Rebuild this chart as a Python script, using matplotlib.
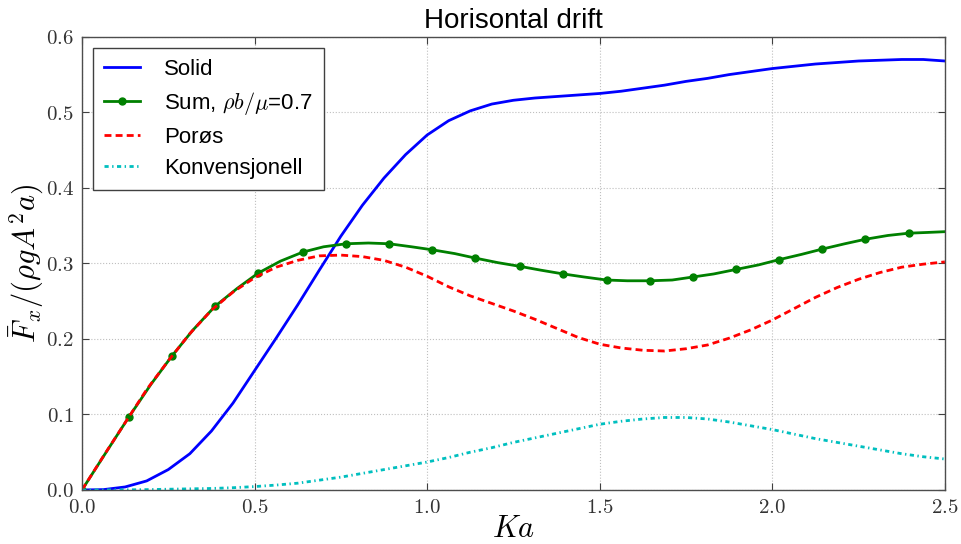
import matplotlib
matplotlib.use("Agg")
import matplotlib.pyplot as plt
from matplotlib.ticker import FuncFormatter, MultipleLocator

plt.rcParams["font.family"] = ["Liberation Sans", "DejaVu Sans"]
plt.rcParams["mathtext.fontset"] = "cm"

# Ka-verdier (felles rutenett for Solid, Porøs og Konvensjonell)
ka = [0.0, 0.0625, 0.125, 0.1875, 0.25, 0.3125, 0.375, 0.4375, 0.5, 0.5625,
      0.625, 0.6875, 0.75, 0.8125, 0.875, 0.9375, 1.0, 1.0625, 1.125, 1.1875,
      1.25, 1.3125, 1.375, 1.4375, 1.5, 1.5625, 1.625, 1.6875, 1.75, 1.8125,
      1.875, 1.9375, 2.0, 2.0625, 2.125, 2.1875, 2.25, 2.3125, 2.375, 2.4375, 2.5]

solid = [0.000, 0.0005, 0.004, 0.012, 0.027, 0.048, 0.078, 0.115, 0.158, 0.201,
         0.245, 0.291, 0.336, 0.377, 0.413, 0.444, 0.470, 0.489, 0.502, 0.511,
         0.516, 0.519, 0.521, 0.523, 0.525, 0.528, 0.532, 0.536, 0.541, 0.545,
         0.550, 0.554, 0.558, 0.561, 0.564, 0.566, 0.568, 0.569, 0.570, 0.570, 0.568]

porous = [0.000, 0.045, 0.089, 0.133, 0.171, 0.207, 0.238, 0.262, 0.281, 0.295,
          0.304, 0.310, 0.311, 0.309, 0.304, 0.295, 0.283, 0.269, 0.257, 0.247,
          0.237, 0.226, 0.214, 0.202, 0.193, 0.188, 0.185, 0.184, 0.187, 0.192,
          0.201, 0.212, 0.225, 0.240, 0.255, 0.268, 0.279, 0.288, 0.295, 0.299, 0.302]

konv = [0.000, 0.000, 0.0002, 0.0005, 0.001, 0.0015, 0.002, 0.003, 0.0045, 0.0065,
        0.009, 0.013, 0.017, 0.022, 0.027, 0.032, 0.037, 0.043, 0.050, 0.056,
        0.063, 0.069, 0.075, 0.081, 0.087, 0.091, 0.094, 0.096, 0.096, 0.094,
        0.090, 0.085, 0.080, 0.074, 0.068, 0.063, 0.058, 0.053, 0.048, 0.044, 0.041]

# Sum-kurven har egne Ka-verdier (markører på hvert andre punkt)
ka_sum = [0.00, 0.07, 0.135, 0.20, 0.26, 0.32, 0.385, 0.45, 0.51, 0.575,
          0.64, 0.70, 0.765, 0.83, 0.89, 0.955, 1.015, 1.08, 1.14, 1.205,
          1.27, 1.33, 1.395, 1.455, 1.52, 1.58, 1.645, 1.71, 1.77, 1.83,
          1.895, 1.96, 2.02, 2.085, 2.145, 2.21, 2.27, 2.335, 2.395, 2.45, 2.50]

total = [0.000, 0.050, 0.096, 0.140, 0.177, 0.211, 0.243, 0.267, 0.287, 0.303,
         0.315, 0.322, 0.326, 0.327, 0.326, 0.322, 0.318, 0.313, 0.307, 0.301,
         0.296, 0.291, 0.286, 0.282, 0.278, 0.277, 0.277, 0.278, 0.282, 0.286,
         0.292, 0.298, 0.305, 0.312, 0.319, 0.326, 0.332, 0.337, 0.340, 0.341, 0.342]

fig = plt.figure(figsize=(9.62, 5.44), dpi=100)
ax = fig.add_axes([0.0852, 0.0993, 0.897, 0.833])

ax.plot(ka, solid, color="b", lw=2, label="Solid")
ax.plot(ka_sum, total, color="g", lw=2, marker="o", ms=5, mec="g",
        markevery=slice(0, 39, 2), label=r"Sum, $\rho b/\mu$=0.7")
ax.plot(ka, porous, color="r", lw=2, dashes=(2.5, 1.5), label="Porøs")
ax.plot(ka, konv, color="c", lw=2, dashes=(1.5, 1.25, 0.5, 1.25), label="Konvensjonell")

ax.set_xlim(0, 2.5)
ax.set_ylim(0, 0.6)
ax.xaxis.set_major_locator(MultipleLocator(0.5))
ax.yaxis.set_major_locator(MultipleLocator(0.1))
fmt = FuncFormatter(lambda v, p: f"${v:.1f}$")
ax.xaxis.set_major_formatter(fmt)
ax.yaxis.set_major_formatter(fmt)
ax.tick_params(direction="in", length=5, width=0.8, colors="0.25",
               labelsize=15, top=True, right=True, pad=6)
ax.tick_params(labelcolor="0.2")
for s in ax.spines.values():
    s.set_color("0.3")
    s.set_linewidth(1)

ax.grid(True, color="0.75", linestyle=":", lw=0.8)

ax.set_title("Horisontal drift", fontsize=20, pad=6)
ax.set_xlabel(r"$Ka$", fontsize=22)
ax.set_ylabel(r"$\bar{F}_x/(\rho g A^2 a)$", fontsize=22)
ax.xaxis.set_label_coords(0.5, -0.052)
ax.yaxis.set_label_coords(-0.042, 0.5)

leg = ax.legend(loc="upper left", fontsize=16, fancybox=False, framealpha=1,
                edgecolor="0.25", handlelength=1.6, handletextpad=1.1,
                borderpad=0.5, labelspacing=0.45)
leg.get_frame().set_linewidth(1)

fig.savefig("out.png", dpi=100)
